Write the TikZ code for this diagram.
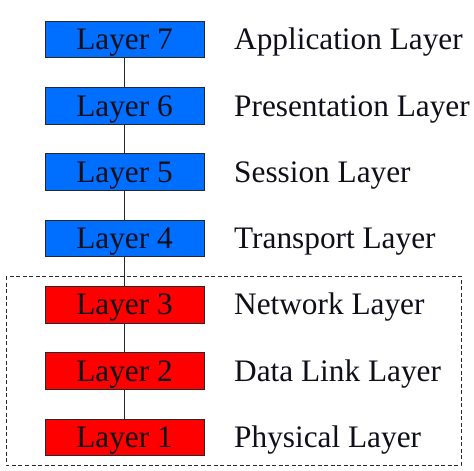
\documentclass[tikz,border=0pt]{standalone}
\usepackage{fontspec}
\setmainfont{Liberation Serif}
\definecolor{upperblue}{RGB}{0,110,255}
\definecolor{lowerred}{RGB}{255,0,0}
\definecolor{edgegray}{RGB}{40,40,40}
\definecolor{inkdark}{RGB}{15,15,25}
\begin{document}
\begin{tikzpicture}[x=1pt,y=1pt,
  layerbox/.style={draw=edgegray, line width=0.9pt, minimum width=159pt, minimum height=36.5pt,
    inner sep=0pt, text height=20.5pt, text depth=0pt,
    font=\fontsize{31.3}{31.3}\selectfont, text=inkdark},
  upper/.style={layerbox, fill=upperblue},
  lower/.style={layerbox, fill=lowerred},
  layername/.style={anchor=west, inner sep=0pt, text height=20.5pt, text depth=0pt,
    font=\fontsize{31.3}{31.3}\selectfont, text=inkdark},
  link/.style={draw=edgegray, line width=0.9pt},
  groupbox/.style={draw=edgegray, line width=0.8pt, dash pattern=on 4pt off 2.5pt}]
  \useasboundingbox (0,0) rectangle (474,-471);

  % protocol stack boxes
  \node[upper] (L7) at (124.5,-39.5)  {Layer 7};
  \node[upper] (L6) at (124.5,-105.8) {Layer 6};
  \node[upper] (L5) at (124.5,-172.1) {Layer 5};
  \node[upper] (L4) at (124.5,-238.4) {Layer 4};
  \node[lower] (L3) at (124.5,-304.7) {Layer 3};
  \node[lower] (L2) at (124.5,-371.0) {Layer 2};
  \node[lower] (L1) at (124.5,-437.3) {Layer 1};

  % layer names
  \node[layername] (N7) at (234,-39.5)  {Application Layer};
  \node[layername] (N6) at (234,-105.8) {Presentation Layer};
  \node[layername] (N5) at (234,-172.1) {Session Layer};
  \node[layername] (N4) at (234,-238.4) {Transport Layer};
  \node[layername] (N3) at (234,-304.7) {Network Layer};
  \node[layername] (N2) at (234,-371.0) {Data Link Layer};
  \node[layername] (N1) at (234,-437.3) {Physical Layer};

  % dashed frame around the lower three layers
  \draw[groupbox] (6,-276) rectangle (461,-465);

  % vertical links between adjacent layers
  \draw[link] (L7.south) -- (L6.north);
  \draw[link] (L6.south) -- (L5.north);
  \draw[link] (L5.south) -- (L4.north);
  \draw[link] (L4.south) -- (L3.north);
  \draw[link] (L3.south) -- (L2.north);
  \draw[link] (L2.south) -- (L1.north);
\end{tikzpicture}
\end{document}
